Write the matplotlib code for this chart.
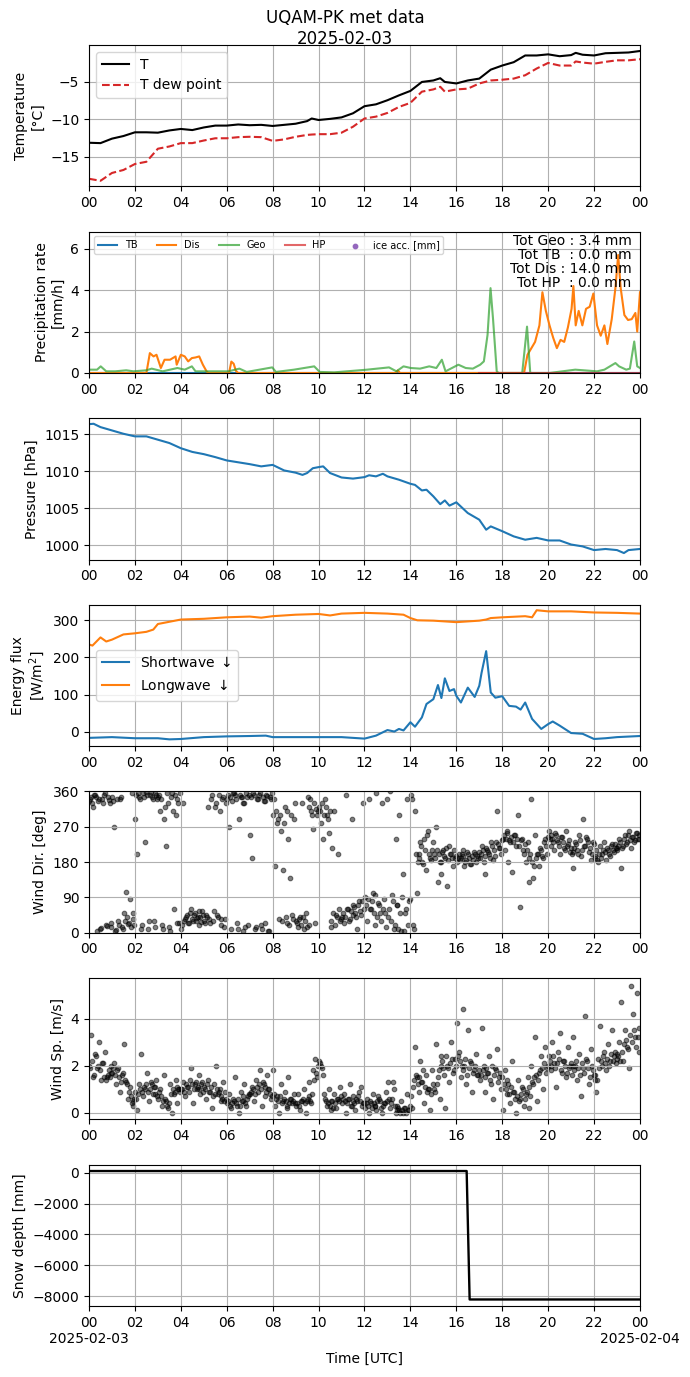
import numpy as np
import matplotlib
matplotlib.use("Agg")
import matplotlib.pyplot as plt

# ---------------- data ----------------
hours_tick = list(range(0, 25, 2))
tick_labels = ["00", "02", "04", "06", "08", "10", "12", "14", "16", "18", "20", "22", "00"]
bottom_tick_labels = ["00\n2025-02-03"] + tick_labels[1:-1] + ["00\n2025-02-04"]

temp_t = [0, 0.5, 1, 1.5, 2, 2.5, 3, 3.5, 4, 4.5, 5, 5.5, 6, 6.5, 7, 7.5, 8, 8.5, 9, 9.5, 9.7,
          10, 10.5, 11, 11.5, 12, 12.5, 13, 13.5, 14, 14.5, 15, 15.3, 15.5, 16, 16.5, 17, 17.5,
          18, 18.5, 19, 19.5, 20, 20.5, 21, 21.2, 21.5, 22, 22.5, 23, 23.5, 24]
temp_T = [-13.15, -13.2, -12.6, -12.25, -11.75, -11.75, -11.8, -11.5, -11.3, -11.45, -11.1, -10.85,
          -10.85, -10.7, -10.8, -10.75, -10.9, -10.75, -10.6, -10.25, -9.9,
          -10.1, -9.95, -9.75, -9.2, -8.25, -8.0, -7.45, -6.8, -6.2, -5.0, -4.8, -4.5, -5.0, -5.2,
          -4.8, -4.55, -3.35, -2.8, -2.35, -1.45, -1.45, -1.3, -1.55, -1.4, -1.1, -1.35, -1.45,
          -1.15, -1.1, -1.05, -0.85]
temp_Td = [-17.98, -18.25, -17.2, -16.8, -16.0, -15.7, -13.95, -13.65, -13.2, -13.2, -12.85, -12.55,
           -12.55, -12.4, -12.35, -12.4, -12.9, -12.7, -12.35, -12.1, -12.05,
           -12.0, -12.0, -11.8, -11.0, -9.9, -9.65, -9.15, -8.35, -7.8, -6.3, -6.0, -5.65, -6.3,
           -6.0, -5.9, -5.2, -4.8, -4.7, -4.55, -4.1, -3.2, -2.45, -2.8, -2.8, -2.25, -2.4, -2.55,
           -2.3, -2.1, -2.1, -1.95]

dis_t = [0, 2.5, 2.65, 2.81, 2.94, 3.13, 3.29, 3.53, 3.77, 3.82, 4.0, 4.17, 4.32, 4.48, 4.64, 4.8,
         4.96, 5.12, 5.2, 6.1, 6.2, 6.3, 6.4, 6.5, 13.35, 13.45, 13.55, 18.95, 19.1, 19.43, 19.62,
         19.75, 19.9, 20.06, 20.22, 20.38, 20.54, 20.7, 20.86, 21.02, 21.1, 21.2, 21.33, 21.49,
         21.65, 21.81, 21.97, 22.13, 22.29, 22.45, 22.58, 22.77, 22.93, 23.05, 23.16, 23.32,
         23.48, 23.64, 23.8, 23.88, 24.0]
dis_v = [0, 0, 0.96, 0.8, 0.88, 0.24, 0.64, 0.64, 0.8, 0.4, 0.88, 0.8, 0.56, 0.72, 0.75, 0.8,
         0.4, 0.08, 0, 0, 0.55, 0.45, 0.1, 0, 0, 0.12, 0, 0, 0.88, 1.5, 2.3,
         3.9, 3.0, 2.3, 1.7, 1.2, 1.6, 1.5, 2.2, 3.1, 4.2, 2.3, 3.0, 2.3,
         3.1, 3.2, 3.84, 2.3, 1.8, 2.3, 1.4, 2.6, 4.1, 5.7, 4.1, 2.8,
         2.56, 2.6, 2.9, 2.0, 3.9]

geo_t = [0, 0.35, 0.51, 0.75, 1.14, 1.62, 1.94, 2.5, 2.73, 3.21, 3.53, 3.85, 4.17, 4.48, 4.64,
         5.12, 5.6, 6.07, 6.55, 6.87, 7.98, 8.14, 8.93, 9.81, 10.05, 10.68, 12.11, 13.07, 13.39,
         13.7, 14.02, 14.42, 14.82, 15.13, 15.37, 15.53, 16.09, 16.41, 16.72, 17.04, 17.2, 17.36,
         17.49, 17.6, 17.76, 17.84, 18.87, 19.08, 19.22, 20.06, 21.18, 22.13, 22.45, 22.93, 23.09,
         23.4, 23.56, 23.75, 23.88, 24.0]
geo_v = [0.16, 0.16, 0.32, 0.08, 0.08, 0.13, 0.08, 0.13, 0.21, 0.08, 0.16, 0.24, 0.16, 0.32, 0.08,
         0.08, 0.08, 0.08, 0.21, 0.05, 0.27, 0.05, 0.16, 0.32, 0.05, 0.03, 0.16, 0.27, 0.08,
         0.32, 0.24, 0.21, 0.32, 0.24, 0.64, 0.08, 0.4, 0.24, 0.21, 0.4, 0.56, 1.84,
         4.1, 2.6, 0.08, 0.0, 0.0, 2.24, 0.0, 0.0, 0.16, 0.08, 0.16, 0.48, 0.32,
         0.16, 0.21, 1.52, 0.32, 0.24]

tb_t = [0, 24]
tb_v = [0, 0]
hp_t = [17.0, 24]
hp_v = [0, 0]
totals_text = "Tot Geo : 3.4 mm\nTot TB  : 0.0 mm\nTot Dis : 14.0 mm\nTot HP  : 0.0 mm"

pres_t = [0, 0.2, 0.5, 1, 1.5, 2, 2.5, 3, 3.5, 4, 4.5, 5, 5.5, 6, 6.5, 7, 7.5, 8, 8.5, 9, 9.3, 9.5,
          9.75, 10, 10.2, 10.5, 11, 11.5, 12, 12.2, 12.5, 12.8, 13, 13.5, 14, 14.2, 14.5, 14.7, 15,
          15.3, 15.5, 15.7, 16, 16.5, 17, 17.3, 17.5, 18, 18.5, 19, 19.5, 20, 20.5, 21, 21.5, 22,
          22.5, 23, 23.3, 23.5, 24]
pres_v = [1016.35, 1016.4, 1015.95, 1015.5, 1015.05, 1014.7, 1014.7, 1014.25, 1013.8, 1013.1,
          1012.6, 1012.3, 1011.9, 1011.45, 1011.2, 1010.95, 1010.65, 1010.85, 1010.1, 1009.8,
          1009.5, 1009.75, 1010.4, 1010.55, 1010.65, 1009.75, 1009.15, 1009.0, 1009.2, 1009.45,
          1009.3, 1009.65, 1009.3, 1008.85, 1008.3, 1008.15, 1007.4, 1007.5, 1006.6, 1005.55,
          1006.05, 1005.35, 1005.8, 1004.35, 1003.45, 1002.1, 1002.55, 1001.9, 1001.2, 1000.75,
          1001.0, 1000.65, 1000.65, 1000.1, 999.85, 999.35, 999.5, 999.35, 998.95, 999.35, 999.5]

lw_t = [0, 0.15, 0.5, 0.75, 1, 1.5, 2, 2.5, 2.8, 3, 3.5, 4, 5, 6, 7, 7.5, 8, 9, 10, 10.5, 11, 12,
        13, 13.7, 14, 14.3, 15, 16, 17, 17.3, 17.5, 18, 19, 19.3, 19.5, 20, 21, 22, 23, 24]
lw_v = [235, 232, 254, 243, 248, 262, 265, 269, 275, 290, 296, 302, 304, 308, 310, 307, 311, 315,
        317, 313, 318, 320, 318, 315, 306, 300, 299, 295, 299, 302, 306, 308, 311, 308, 327, 324,
        324, 321, 320, 318]
sw_t = [0, 1, 2, 3, 3.5, 4, 5, 6, 7, 7.7, 8, 9, 10, 11, 12, 12.5, 13, 13.3, 13.5, 13.7, 14, 14.2,
        14.5, 14.7, 15, 15.2, 15.35, 15.5, 15.7, 15.9, 16, 16.2, 16.5, 16.8, 17, 17.1, 17.3, 17.5,
        17.7, 18, 18.3, 18.6, 18.8, 19, 19.3, 19.7, 20, 20.2, 20.5, 21, 21.5, 22, 22.5, 23, 24]
sw_v = [-16, -14, -17, -17, -20, -19, -14, -12, -11, -10, -14, -14, -14, -14, -18, -10, 5, 1, 8,
        4, 26, 14, 39, 75, 88, 126, 91, 144, 110, 115, 97, 79, 119, 94, 124, 159, 217, 106, 92,
        96, 70, 68, 60, 79, 35, 8, 21, 28, 17, -3, -5, -19, -17, -14, -11]

# wind direction, two interleaved sets of 12 samples per hour
wdir_a = [
    335, 345, 320, 350, 5, 340, 12, 330, 355, 18, 338, 25,
    345, 270, 8, 30, 340, 15, 50, 105, 22, 85, 355, 35,
    290, 200, 345, 10, 355, 230, 350, 30, 358, 340, 15, 350,
    345, 310, 20, 290, 220, 330, 5, 355, 60, 300, 340, 25,
    10, 330, 35, 45, 25, 60, 30, 50, 38, 20, 40, 55,
    30, 45, 320, 25, 350, 55, 330, 40, 310, 20, 345, 35,
    340, 270, 10, 355, 350, 25, 290, 345, 5, 330, 355, 20,
    250, 190, 350, 15, 340, 355, 10, 335, 25, 348, 5, 340,
    300, 170, 280, 35, 260, 160, 320, 25, 240, 140, 45, 290,
    30, 15, 40, 330, 10, 50, 345, 20, 310, 265, 25, 300,
    320, 280, 240, 340, 300, 255, 15, 215, 310, 45, 200, 30,
    40, 25, 350, 60, 35, 290, 70, 50, 10, 80, 45, 330,
    90, 30, 340, 60, 100, 20, 355, 75, 50, 330, 85, 15,
    40, 360, 95, 10, 240, 70, 300, 5, 150, 50, 340, 80,
    350, 20, 310, 100, 200, 230, 180, 240, 160, 260, 190, 210,
    200, 270, 130, 180, 150, 210, 190, 120, 220, 200, 170, 190,
    180, 200, 190, 210, 170, 185, 200, 175, 195, 205, 180, 190,
    190, 220, 180, 150, 210, 200, 230, 185, 195, 310, 215, 200,
    240, 210, 260, 180, 230, 155, 250, 220, 300, 65, 240, 200,
    180, 230, 130, 340, 140, 250, 200, 170, 210, 190, 240, 200,
    260, 220, 240, 210, 250, 230, 200, 245, 215, 260, 225, 205,
    200, 165, 230, 210, 250, 195, 290, 220, 240, 205, 185, 230,
    190, 210, 180, 220, 200, 230, 185, 210, 195, 225, 205, 215,
    210, 240, 165, 220, 250, 230, 260, 215, 245, 235, 255, 240,
]
wdir_b = [
    340, 330, 350, 345, 335, 10, 340, 350, 20, 345, 330, 15,
    335, 5, 340, 20, 345, 10, 30, 40, 25, 15, 50, 20,
    350, 355, 340, 20, 345, 358, 10, 350, 345, 30, 355, 340,
    350, 340, 10, 320, 355, 15, 345, 310, 350, 25, 330, 355,
    20, 30, 40, 25, 50, 35, 45, 30, 40, 55, 28, 45,
    25, 40, 35, 340, 30, 320, 45, 350, 35, 340, 15, 330,
    350, 345, 335, 355, 340, 10, 350, 345, 330, 15, 345, 350,
    345, 355, 10, 340, 350, 20, 345, 335, 350, 5, 345, 355,
    340, 310, 290, 300, 30, 280, 40, 310, 20, 300, 35, 330,
    25, 35, 20, 40, 30, 15, 320, 340, 300, 330, 315, 310,
    310, 330, 300, 320, 290, 310, 30, 50, 20, 40, 60, 35,
    50, 40, 60, 30, 55, 45, 65, 40, 70, 55, 80, 60,
    70, 85, 60, 80, 50, 95, 40, 70, 30, 60, 50, 340,
    60, 30, 80, 20, 70, 10, 50, 90, 5, 60, 20, 85,
    340, 10, 200, 180, 190, 220, 175, 210, 250, 200, 185, 230,
    190, 210, 200, 180, 205, 195, 215, 185, 200, 190, 210, 195,
    190, 185, 200, 195, 180, 205, 190, 175, 185, 200, 195, 205,
    200, 210, 195, 215, 205, 190, 220, 210, 230, 225, 215, 235,
    250, 240, 255, 235, 245, 230, 250, 240, 220, 235, 210, 225,
    210, 190, 200, 180, 170, 190, 200, 215, 195, 230, 220, 245,
    240, 250, 230, 255, 235, 220, 245, 230, 210, 220, 235, 215,
    205, 215, 225, 200, 235, 210, 220, 245, 230, 215, 200, 225,
    195, 185, 200, 190, 210, 205, 215, 200, 220, 210, 225, 215,
    220, 230, 215, 240, 225, 250, 235, 245, 230, 255, 240, 250,
]
wspd_a = [
    2.0, 3.3, 1.5, 2.5, 1.9, 3.0, 1.4, 2.1, 2.6, 1.5, 1.8, 2.0,
    1.7, 2.1, 1.2, 1.9, 0.9, 1.6, 2.9, 1.3, 0.6, 1.1, 0.4, 0.3,
    0.9, 0.1, 1.2, 2.5, 0.7, 1.0, 1.7, 0.5, 1.3, 0.8, 1.1, 1.4,
    0.6, 1.0, 0.3, 1.6, 0.5, 0.2, 1.2, 0.0, 0.8, 1.4, 0.4, 1.0,
    1.0, 1.3, 0.7, 1.1, 0.9, 1.9, 0.4, 1.2, 1.0, 1.6, 0.8, 1.3,
    1.1, 0.6, 1.4, 0.9, 0.2, 1.2, 2.0, 0.8, 1.0, 0.5, 1.3, 0.9,
    0.4, 0.8, 0.2, 0.6, 1.5, 0.3, 0.0, 0.9, 0.5, 1.2, 0.3, 0.7,
    0.8, 1.1, 0.5, 1.4, 0.9, 1.8, 0.3, 1.2, 0.7, 1.6, 1.0, 0.6,
    1.8, 0.3, 0.7, 0.0, 1.2, 0.5, 0.9, 0.2, 1.5, 0.6, 0.4, 0.8,
    0.3, 0.8, 0.1, 0.5, 1.0, 0.0, 0.6, 1.3, 0.4, 1.8, 2.3, 1.5,
    2.2, 2.0, 1.6, 0.6, 0.3, 1.0, 0.1, 0.5, 0.8, 0.2, 0.6, 1.1,
    0.4, 0.8, 0.0, 0.6, 1.2, 0.3, 0.7, 0.1, 0.5, 0.9, 1.1, 0.4,
    0.2, 0.6, 0.0, 0.4, 0.8, 0.3, 0.1, 0.7, 0.5, 0.0, 0.4, 0.9,
    1.3, 0.2, 0.6, 1.0, 0.0, 0.3, 0.1, 0.5, 0.0, 0.2, 0.8, 0.1,
    0.7, 1.1, 2.8, 1.5, 0.9, 2.2, 1.3, 0.4, 1.6, 1.0, 0.1, 1.8,
    1.0, 2.9, 1.5, 0.6, 2.4, 1.9, 0.2, 2.0, 1.3, 3.0, 1.7, 2.3,
    3.8, 2.6, 1.5, 4.4, 2.0, 1.2, 3.5, 2.2, 0.9, 1.8, 2.5, 1.6,
    1.4, 3.6, 2.0, 0.9, 1.7, 2.4, 1.2, 0.6, 1.9, 2.7, 1.5, 1.0,
    0.1, 1.8, 0.8, 1.2, 0.4, 2.2, 0.9, 0.0, 1.4, 0.6, 1.1, 0.3,
    0.8, 1.5, 0.2, 2.0, 1.2, 3.2, 0.5, 1.7, 2.4, 1.0, 2.8, 1.9,
    2.4, 1.8, 3.0, 2.1, 1.1, 2.6, 3.4, 1.7, 2.2, 1.5, 2.8, 2.0,
    1.6, 3.2, 2.0, 1.4, 2.5, 0.7, 1.9, 4.1, 2.2, 1.2, 2.7, 1.8,
    1.4, 0.9, 2.3, 3.7, 2.0, 2.6, 1.8, 2.9, 2.2, 3.5, 2.4, 2.1,
    2.5, 3.0, 4.7, 2.2, 3.5, 2.8, 1.9, 5.4, 4.2, 3.2, 5.1, 2.6,
]
wspd_b = [
    1.9, 2.2, 1.6, 2.4, 2.0, 1.8, 2.1, 1.5, 1.4, 1.6, 1.5, 1.7,
    1.9, 1.6, 1.8, 1.5, 1.3, 1.7, 1.4, 1.2, 0.9, 0.7, 0.5, 0.6,
    0.6, 0.8, 1.0, 0.9, 1.1, 1.2, 0.9, 1.0, 1.2, 1.1, 0.8, 0.7,
    0.9, 0.7, 0.5, 0.6, 0.3, 0.4, 0.8, 1.0, 0.9, 1.1, 1.0, 0.9,
    1.0, 0.9, 1.2, 1.1, 1.4, 1.2, 1.0, 1.3, 1.1, 1.0, 1.2, 0.9,
    1.0, 1.2, 0.9, 1.1, 0.7, 0.8, 1.0, 0.9, 0.7, 0.6, 0.5, 0.6,
    0.5, 0.3, 0.4, 0.5, 0.4, 0.6, 0.3, 0.5, 0.7, 0.4, 0.6, 0.8,
    0.9, 1.0, 0.8, 1.1, 1.2, 1.0, 1.3, 1.1, 0.9, 1.0, 0.8, 0.7,
    0.8, 0.6, 0.5, 0.7, 0.4, 0.6, 0.5, 0.3, 0.4, 0.6, 0.5, 0.4,
    0.4, 0.3, 0.5, 0.6, 0.4, 0.5, 0.7, 0.5, 0.8, 1.4, 1.7, 2.0,
    2.1, 1.9, 0.8, 0.5, 0.4, 0.3, 0.5, 0.2, 0.4, 0.6, 0.5, 0.7,
    0.6, 0.5, 0.4, 0.6, 0.3, 0.5, 0.4, 0.6, 0.7, 0.5, 0.3, 0.4,
    0.4, 0.3, 0.5, 0.2, 0.4, 0.3, 0.5, 0.6, 0.2, 0.3, 0.4, 0.5,
    0.6, 0.4, 1.3, 0.3, 0.1, 0.2, 0.0, 0.1, 0.2, 0.0, 0.1, 0.3,
    0.2, 1.4, 1.6, 1.2, 1.5, 1.3, 1.8, 1.1, 0.9, 1.0, 0.8, 1.2,
    0.9, 1.2, 1.8, 2.0, 2.2, 1.6, 2.4, 1.9, 2.1, 2.3, 1.8, 2.0,
    2.4, 2.2, 2.0, 1.8, 2.3, 1.6, 1.9, 2.1, 1.7, 2.0, 1.6, 1.8,
    1.6, 1.8, 1.5, 1.9, 1.7, 1.4, 2.0, 1.6, 1.8, 1.3, 1.7, 1.5,
    1.2, 1.0, 1.4, 0.8, 1.1, 0.9, 0.6, 0.7, 0.5, 0.8, 1.0, 0.6,
    0.9, 1.1, 0.7, 1.3, 1.5, 1.6, 1.4, 1.8, 1.9, 2.1, 1.7, 2.0,
    2.2, 2.0, 2.4, 1.9, 2.1, 2.3, 1.8, 2.2, 2.0, 1.7, 1.9, 2.1,
    2.0, 1.8, 2.2, 1.9, 1.6, 2.1, 1.7, 2.3, 1.9, 1.5, 2.0, 1.6,
    1.6, 1.4, 1.9, 2.2, 2.4, 2.1, 2.3, 2.0, 2.5, 2.2, 2.6, 2.3,
    2.4, 2.2, 2.6, 2.9, 3.1, 2.7, 3.3, 3.0, 3.5, 2.8, 3.2, 3.6,
]

snow_t = [0, 16.45, 16.58, 24]
snow_v = [115, 115, -8220, -8220]

# ---------------- figure ----------------
fig, axes = plt.subplots(7, 1, figsize=(6.9, 13.77), dpi=100)
fig.subplots_adjust(left=0.129, right=0.9275, top=0.9673, bottom=0.0516, hspace=0.32)

step = 24.0 / len(wdir_a)
wind_t_a = np.arange(len(wdir_a)) * step + 0.02
wind_t_b = np.arange(len(wdir_b)) * step + 0.02 + step / 2

fig.suptitle("UQAM-PK met data\n2025-02-03", fontsize=12, x=0.5, y=0.9935, va="top")

# Temperature
ax = axes[0]
ax.plot(temp_t, temp_T, color="black", lw=1.5, label="T")
ax.plot(temp_t, temp_Td, color="tab:red", lw=1.5, ls="--", label="T dew point")
ax.set_ylim(-19.0, -0.05)
ax.set_ylabel("Temperature\n[°C]")
ax.legend(loc="upper left", fontsize=10)

# Precipitation
ax = axes[1]
ax.plot(tb_t, tb_v, color="tab:blue", lw=1.5, label="TB")
ax.plot(dis_t, dis_v, color="tab:orange", lw=1.5, label="Dis")
ax.plot(geo_t, geo_v, color="tab:green", lw=1.5, alpha=0.7, label="Geo")
ax.plot(hp_t, hp_v, color="tab:red", lw=1.5, alpha=0.7, label="HP")
ax.scatter([], [], color="tab:purple", s=10, label="ice acc. [mm]")
ax.set_ylim(0, 6.83)
ax.set_ylabel("Precipitation rate\n[mm/h]")
ax.legend(loc="upper left", ncol=5, fontsize=7)
ax.text(0.985, 0.985, totals_text, transform=ax.transAxes, ha="right", va="top", fontsize=10,
        linespacing=1.0)

# Pressure
ax = axes[2]
ax.plot(pres_t, pres_v, color="tab:blue", lw=1.5)
ax.set_ylim(998.07, 1017.15)
ax.set_ylabel("Pressure [hPa]")

# Energy
ax = axes[3]
ax.plot(sw_t, sw_v, color="tab:blue", lw=1.5, label="Shortwave $\\downarrow$")
ax.plot(lw_t, lw_v, color="tab:orange", lw=1.5, label="Longwave $\\downarrow$")
ax.set_ylim(-38.3, 341.6)
ax.set_ylabel("Energy flux\n[W/m$^2$]")
ax.legend(loc="center left", fontsize=10)

# Wind direction
ax = axes[4]
for tt, vv in ((wind_t_a, wdir_a), (wind_t_b, wdir_b)):
    ax.scatter(tt, vv, color="black", alpha=0.5, s=11, linewidths=0.8)
ax.set_ylim(0, 360)
ax.set_yticks([0, 90, 180, 270, 360])
ax.set_ylabel("Wind Dir. [deg]")

# Wind speed
ax = axes[5]
for tt, vv in ((wind_t_a, wspd_a), (wind_t_b, wspd_b)):
    ax.scatter(tt, vv, color="black", alpha=0.5, s=11, linewidths=0.8)
ax.set_ylim(-0.28, 5.72)
ax.set_yticks([0, 2, 4])
ax.set_ylabel("Wind Sp. [m/s]")

# Snow depth
ax = axes[6]
ax.plot(snow_t, snow_v, color="black", lw=1.7)
ax.set_ylim(-8640, 533)
ax.set_ylabel("Snow depth [mm]")
ax.set_xlabel("Time [UTC]")

for i, ax in enumerate(axes):
    ax.set_xlim(0, 24)
    ax.set_xticks(hours_tick)
    if i == 6:
        ax.set_xticklabels(bottom_tick_labels)
    else:
        ax.set_xticklabels(tick_labels)
    ax.grid(True)

fig.savefig("out.png", dpi=100)
